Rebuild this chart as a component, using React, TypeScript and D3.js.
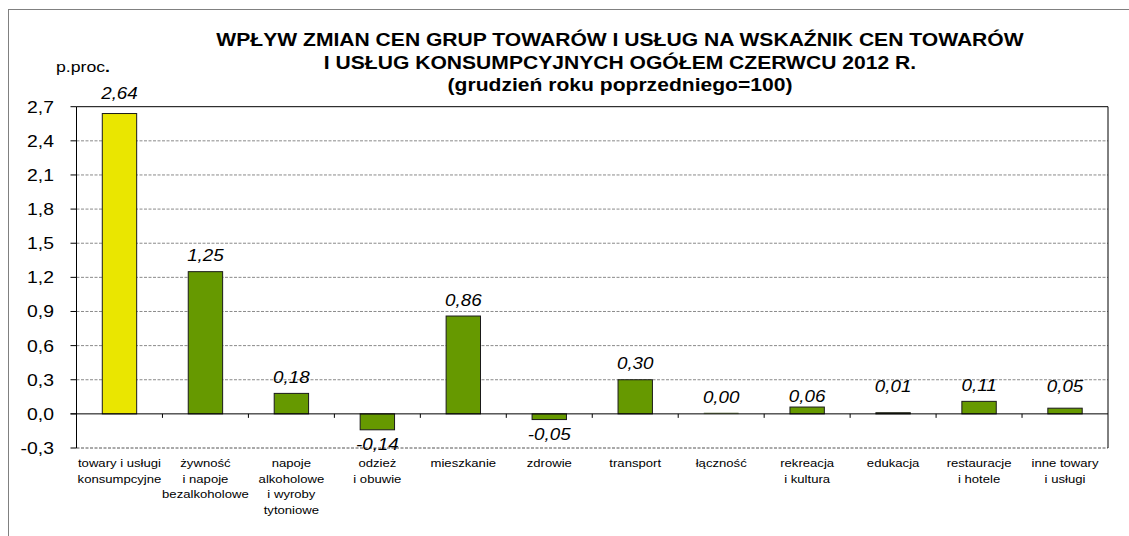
import * as d3 from "d3";

const categoryLines: string[][] = [
  ["towary i usługi", "konsumpcyjne"],
  ["żywność", "i napoje", "bezalkoholowe"],
  ["napoje", "alkoholowe", "i wyroby", "tytoniowe"],
  ["odzież", "i obuwie"],
  ["mieszkanie"],
  ["zdrowie"],
  ["transport"],
  ["łączność"],
  ["rekreacja", "i kultura"],
  ["edukacja"],
  ["restauracje", "i hotele"],
  ["inne towary", "i usługi"]
];
const values = [2.64, 1.25, 0.18, -0.14, 0.86, -0.05, 0.3, 0.0, 0.06, 0.01, 0.11, 0.05];
const yTicks = [-0.3, 0, 0.3, 0.6, 0.9, 1.2, 1.5, 1.8, 2.1, 2.4, 2.7];
const titleLines = [
  "WPŁYW ZMIAN CEN GRUP TOWARÓW I USŁUG NA WSKAŹNIK CEN TOWARÓW",
  "I USŁUG KONSUMPCYJNYCH OGÓŁEM CZERWCU 2012 R.",
  "(grudzień roku poprzedniego=100)"
];
const unitLabel = "p.proc.";
// small manual label shifts, as in the source chart
const labelNudge = [-4, 0, 0, 0, 0, 0, 0, 0, 5, -10, 0, -6];

const width = 1129;
const height = 536;
const plotLeft = 76.5;
const plotRight = 1108;
const plotTop = 106.7;
const plotBottom = 448;
const stretch = 1.14;
const font = "'Liberation Sans', Arial, Helvetica, sans-serif";
const yellow = "#EAE600";
const green = "#669900";

const comma = (v: number, digits: number) => d3.format(`.${digits}f`)(v).replace(".", ",").replace("−", "-");

function SText({
  x,
  y,
  anchor = "middle",
  size,
  weight,
  italic,
  children
}: {
  x: number;
  y: number;
  anchor?: "start" | "middle" | "end";
  size: number;
  weight?: string;
  italic?: boolean;
  children: React.ReactNode;
}) {
  return (
    <text
      transform={`translate(${x},${y}) scale(${stretch},1)`}
      textAnchor={anchor}
      fontFamily={font}
      fontSize={size}
      fontWeight={weight}
      fontStyle={italic ? "italic" : undefined}
      fill="#000"
    >
      {children}
    </text>
  );
}

export default function App() {
  const keys = categoryLines.map((lines) => lines.join(" "));
  const slot = d3.scaleBand<string>().domain(keys).range([plotLeft, plotRight]);
  const xBar = d3
    .scaleBand<string>()
    .domain(keys)
    .range([plotLeft, plotRight])
    .paddingInner(0.6)
    .paddingOuter(0.3);
  const y = d3.scaleLinear().domain([-0.3, 2.7]).range([plotBottom, plotTop]);
  const y0 = y(0);

  return (
    <svg
      width={width}
      height={height}
      viewBox={`0 0 ${width} ${height}`}
      style={{ position: "absolute", left: 0, top: 0, background: "#fff" }}
    >
      <rect x={8.5} y={9.5} width={1300} height={700} fill="#fff" stroke="#808080" />

      {titleLines.map((t, i) => (
        <SText key={t} x={620} y={46 + i * 22.5} size={18.5} weight="bold">
          {t}
        </SText>
      ))}
      <SText x={56} y={72} anchor="start" size={15.5}>
        {unitLabel.slice(0, -1)}
        <tspan fontWeight="bold">.</tspan>
      </SText>

      {yTicks.map((t) => (
        <g key={t}>
          {t !== 0 && t !== 2.7 && (
            <line
              x1={plotLeft}
              x2={plotRight}
              y1={y(t)}
              y2={y(t)}
              stroke={t === -0.3 ? "#555" : "#8a8a8a"}
              strokeDasharray="3,1.5"
            />
          )}
          <line x1={plotLeft - 6} x2={plotLeft} y1={y(t)} y2={y(t)} stroke="#000" />
          <SText x={54} y={y(t) + 6} anchor="end" size={17}>
            {comma(t, 1)}
          </SText>
        </g>
      ))}

      <line x1={plotLeft} x2={plotRight} y1={plotTop} y2={plotTop} stroke="#000" />
      <line x1={plotRight} x2={plotRight} y1={plotTop} y2={plotBottom} stroke="#000" />

      {keys.map((k, i) => {
        const v = values[i];
        const top = Math.min(y(v), y0);
        const h = Math.max(Math.abs(y(v) - y0), 1);
        return (
          <rect
            key={k}
            x={xBar(k)}
            y={v === 0 ? y0 - 1 : top}
            width={xBar.bandwidth()}
            height={h}
            fill={i === 0 ? yellow : green}
            stroke={v === 0 ? "#b0b0b0" : "#1a1a1a"}
            strokeWidth={v === 0 ? 0.6 : 1}
          />
        );
      })}

      <line x1={plotLeft - 6} x2={plotRight} y1={y0} y2={y0} stroke="#000" />
      {keys.slice(1).map((k) => (
        <line key={k} x1={slot(k)} x2={slot(k)} y1={y0} y2={y0 + 4} stroke="#000" />
      ))}
      <line x1={plotLeft} x2={plotLeft} y1={plotTop} y2={plotBottom} stroke="#000" />

      {keys.map((k, i) => {
        const v = values[i];
        const cx = (xBar(k) ?? 0) + xBar.bandwidth() / 2;
        const ly = v >= 0 ? y(v) - 10.5 : y(v) + 20;
        return (
          <SText key={k} x={cx} y={ly + labelNudge[i]} size={16.5} italic>
            {comma(v, 2)}
          </SText>
        );
      })}

      {categoryLines.map((lines, i) => {
        const k = keys[i];
        const cx = (slot(k) ?? 0) + slot.bandwidth() / 2;
        return (
          <g key={k}>
            {lines.map((ln, j) => (
              <SText key={ln} x={cx} y={467 + j * 15.5} size={11.5}>
                {ln}
              </SText>
            ))}
          </g>
        );
      })}
    </svg>
  );
}
